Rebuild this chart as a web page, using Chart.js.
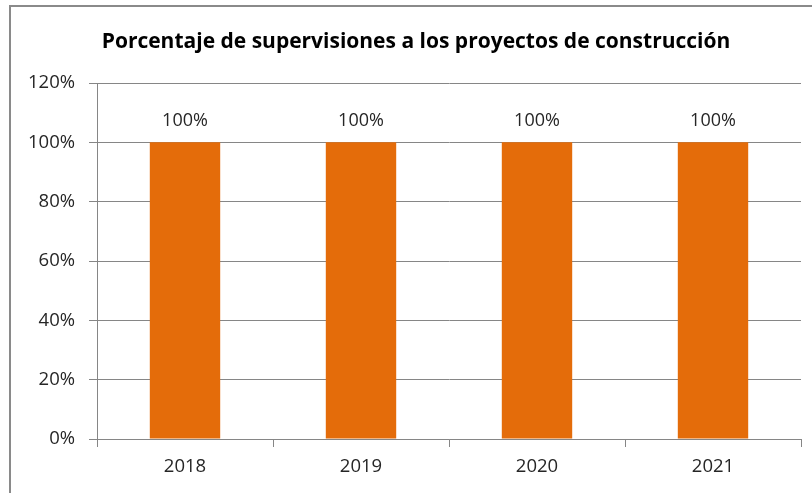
<!DOCTYPE html>
<html>
<head>
<meta charset="utf-8">
<script src="https://cdn.jsdelivr.net/npm/chart.js@4"></script>
<style>
  html, body { margin: 0; padding: 0; background: #ffffff; }
  #wrap { position: relative; width: 812px; height: 493px; overflow: hidden; }
  #frame { position: absolute; left: 9px; top: 5px; width: 900px; height: 600px;
           border-top: 2px solid #8a8a8a; border-left: 2px solid #8a8a8a; box-sizing: border-box; }
  canvas { position: absolute; left: 0; top: 0; }
</style>
</head>
<body>
<div id="wrap">
  <div id="frame"></div>
  <canvas id="c" width="812" height="493"></canvas>
</div>
<script>
const titleText = 'Porcentaje de supervisiones a los proyectos de construcción';
const categories = ['2018', '2019', '2020', '2021'];
const values = [100, 100, 100, 100];
const valueLabels = ['100%', '100%', '100%', '100%'];
const yTicks = [0, 20, 40, 60, 80, 100, 120];

const FONT = '"Open Sans", Lato, sans-serif';
const gridColor = '#868686';
const textColor = '#262626';

const titleAndLabelsPlugin = {
  id: 'titleAndLabels',
  afterDraw(chart) {
    const ctx = chart.ctx;
    ctx.save();
    ctx.font = 'bold 21px ' + FONT;
    ctx.fillStyle = '#000000';
    ctx.textAlign = 'center';
    ctx.textBaseline = 'middle';
    ctx.fillText(titleText, 416, 42);
    ctx.restore();
  },
  afterDatasetsDraw(chart) {
    const ctx = chart.ctx;
    const meta = chart.getDatasetMeta(0);
    ctx.save();
    ctx.font = '18px ' + FONT;
    ctx.fillStyle = textColor;
    ctx.textAlign = 'center';
    ctx.textBaseline = 'middle';
    meta.data.forEach((bar, i) => {
      ctx.fillText(valueLabels[i], bar.x, bar.y - 21);
    });
    ctx.restore();
  }
};

new Chart(document.getElementById('c'), {
  type: 'bar',
  data: {
    labels: categories,
    datasets: [{
      data: values,
      backgroundColor: '#E46C0A',
      borderWidth: 0,
      categoryPercentage: 1.0,
      barPercentage: 0.4
    }]
  },
  options: {
    responsive: false,
    animation: false,
    devicePixelRatio: 1,
    layout: { padding: { left: 0, right: 11, top: 83, bottom: 0 } },
    plugins: {
      legend: { display: false },
      tooltip: { enabled: false },
      title: { display: false }
    },
    scales: {
      x: {
        grid: { display: true, offset: true, drawOnChartArea: false, drawTicks: true, tickLength: 8, color: gridColor },
        border: { display: true, color: gridColor },
        ticks: { color: textColor, font: { family: FONT, size: 18.5 }, padding: 9 },
        afterFit(scale) { scale.height = 54; }
      },
      y: {
        min: 0,
        max: 120,
        afterBuildTicks(scale) { scale.ticks = yTicks.map(v => ({ value: v })); },
        grid: { color: gridColor, tickLength: 8, drawTicks: true },
        border: { display: true, color: gridColor },
        ticks: {
          color: textColor,
          font: { family: FONT, size: 18.5 },
          padding: 14,
          callback: (v) => v + '%'
        },
        afterFit(scale) { scale.width = 97; }
      }
    }
  },
  plugins: [titleAndLabelsPlugin]
});
</script>
</body>
</html>
